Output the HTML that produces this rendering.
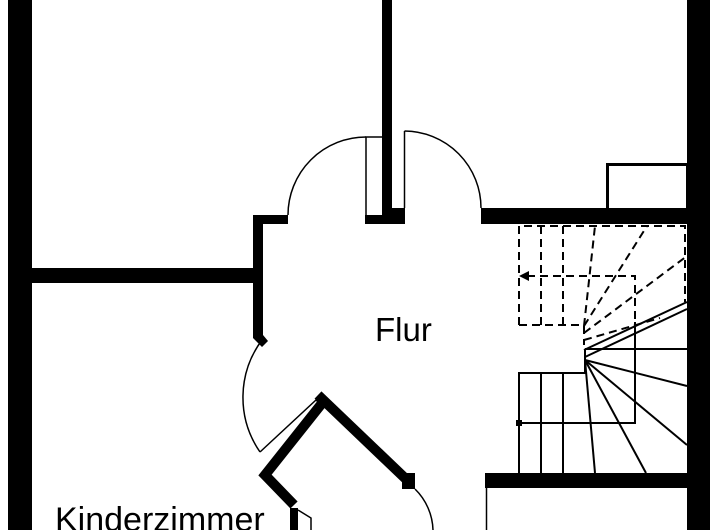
<!DOCTYPE html>
<html><head><meta charset="utf-8"><style>
html,body{margin:0;padding:0;background:#fff}
svg{display:block}
text{font-family:"Liberation Sans",sans-serif;fill:#000}
</style></head><body>
<svg width="720" height="530" viewBox="0 0 720 530" xmlns="http://www.w3.org/2000/svg">
<rect width="720" height="530" fill="#fff"/>
<rect x="8" y="0" width="24" height="530" fill="#000"/>
<rect x="687" y="0" width="23" height="530" fill="#000"/>
<rect x="32" y="268" width="225" height="15" fill="#000"/>
<rect x="253" y="215" width="35" height="9" fill="#000"/>
<polygon points="253,215 263,215 263,335 268,341 262,347 253,338" fill="#000"/>
<rect x="382" y="0" width="10" height="224" fill="#000"/>
<rect x="365" y="215" width="40" height="9" fill="#000"/>
<rect x="392" y="208" width="13" height="16" fill="#000"/>
<g fill="none" stroke="#000" stroke-width="1.5">
<polyline points="382,137 366,137 366,215"/>
<path d="M366,137 A78,78 0 0 0 288,215"/>
<line x1="404.5" y1="131" x2="404.5" y2="208"/>
<path d="M404.5,131 A77,77 0 0 1 481,208"/>
</g>
<rect x="481" y="208" width="206" height="16" fill="#000"/>
<rect x="607.5" y="164.5" width="80" height="45" fill="none" stroke="#000" stroke-width="3"/>
<g fill="none" stroke="#000" stroke-width="1.5">
<path d="M262,340 A96,96 0 0 0 260,452"/>
<polyline points="260,452 316,400 322,405"/>
</g>
<g stroke="#000" stroke-width="10" fill="none" stroke-linejoin="miter">
<polyline points="318,395 408,481"/>
<polyline points="323,402 265,475 294,505"/>
</g>
<rect x="402" y="473" width="13" height="16" fill="#000"/>
<path d="M415,489 A60,60 0 0 1 433,530" fill="none" stroke="#000" stroke-width="1.5"/>
<rect x="290" y="508" width="8" height="22" fill="#000"/>
<polyline points="298,510 311,518 311,530" fill="none" stroke="#000" stroke-width="1.5"/>
<rect x="485" y="473" width="202" height="15" fill="#000"/>
<line x1="486.5" y1="488" x2="486.5" y2="530" stroke="#000" stroke-width="1.5"/>
<g stroke="#000" stroke-width="2" fill="none">
<polyline points="519,473 519,373 585,373 585,349"/>
<line x1="541" y1="373" x2="541" y2="473"/>
<line x1="563" y1="373" x2="563" y2="473"/>
<line x1="585" y1="360" x2="595" y2="473"/>
<line x1="585" y1="360" x2="646" y2="473"/>
<line x1="585" y1="360" x2="687" y2="445"/>
<line x1="585" y1="360" x2="687" y2="386"/>
<line x1="585" y1="349" x2="687" y2="349"/>
<line x1="584" y1="350" x2="687" y2="302"/>
<line x1="585" y1="357" x2="687" y2="309"/>
<polyline points="519,423 635,423 635,322"/>
</g>
<rect x="516" y="420" width="6" height="6" fill="#000"/>
<g stroke="#000" stroke-width="2" fill="none" stroke-dasharray="8,5">
<polyline points="519,325 519,226 685,226 685,302"/>
<line x1="519" y1="325" x2="584" y2="325"/>
<line x1="541" y1="226" x2="541" y2="325"/>
<line x1="563" y1="226" x2="563" y2="325"/>
<line x1="584" y1="326" x2="595" y2="226"/>
<line x1="584" y1="326" x2="647" y2="226"/>
<line x1="584" y1="333" x2="687" y2="256"/>
<line x1="584" y1="340" x2="660" y2="318"/>
<line x1="584" y1="326" x2="584" y2="345"/>
<polyline points="527,276 635,276 635,322"/>
</g>
<polygon points="519,276 529,271 529,281" fill="#000"/>
<text x="375" y="341" font-size="33">Flur</text>
<text x="55" y="531" font-size="34">Kinderzimmer</text>
</svg>
</body></html>
